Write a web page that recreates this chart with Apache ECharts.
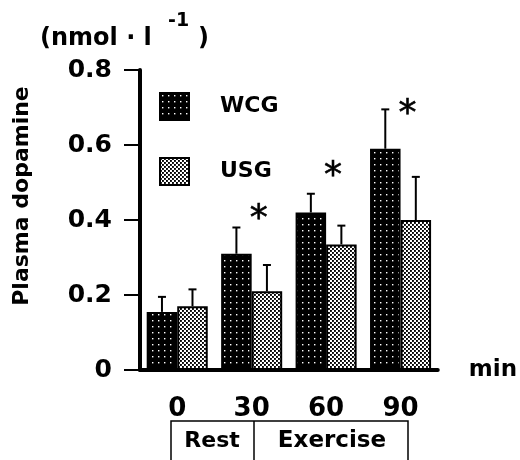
<!DOCTYPE html>
<html>
<head>
<meta charset="utf-8">
<script src="https://cdn.jsdelivr.net/npm/echarts@6/dist/echarts.min.js"></script>
<style>
html,body{margin:0;padding:0;background:#fff;}
#main{width:520px;height:460px;}
</style>
</head>
<body>
<div id="main"></div>
<script>
// ---- data ----
var categories = ['0', '30', '60', '90'];
var wcgMean = [0.155, 0.31, 0.42, 0.59];
var wcgErr  = [0.04, 0.07, 0.05, 0.105];
var usgMean = [0.17, 0.21, 0.335, 0.40];
var usgErr  = [0.045, 0.07, 0.05, 0.115];
var sigCats = [1, 2, 3];
var sigPos  = [0.42, 0.535, 0.70];
var yTicks  = [0, 0.2, 0.4, 0.6, 0.8];

var FONT = 'DejaVu Sans';

function makePattern(kind) {
  var c = document.createElement('canvas');
  var ctx = c.getContext('2d');
  if (kind === 'dark') {
    c.width = 6; c.height = 6;
    ctx.fillStyle = '#000'; ctx.fillRect(0, 0, 6, 6);
    ctx.fillStyle = '#fff';
    ctx.fillRect(2, 2, 1.4, 1.4);
  } else {
    c.width = 4; c.height = 4;
    ctx.fillStyle = '#fff'; ctx.fillRect(0, 0, 4, 4);
    ctx.fillStyle = '#000';
    ctx.fillRect(0, 0, 1.9, 1.9);
    ctx.fillRect(2, 2, 1.9, 1.9);
  }
  return { image: c, repeat: 'repeat' };
}
var darkPat = makePattern('dark');
var lightPat = makePattern('light');

var CAT_GAP = 0.18;

function errRender(sign) {
  return function (params, api) {
    var cat = api.value(0), v = api.value(1), e = api.value(2);
    var band = api.size([1, 0])[0];
    var barW = band * (1 - CAT_GAP) / 2;
    var p0 = api.coord([cat, v]);
    var p1 = api.coord([cat, v + e]);
    var x = p0[0] + sign * barW / 2;
    return {
      type: 'group',
      children: [
        { type: 'line', shape: { x1: x, y1: p0[1], x2: x, y2: p1[1] }, style: { stroke: '#000', lineWidth: 2 } },
        { type: 'line', shape: { x1: x - 4, y1: p1[1], x2: x + 4, y2: p1[1] }, style: { stroke: '#000', lineWidth: 2 } }
      ]
    };
  };
}

var chart = echarts.init(document.getElementById('main'), null, { renderer: 'canvas' });
chart.setOption({
  animation: false,
  backgroundColor: '#fff',
  textStyle: { fontFamily: FONT },
  grid: { left: 140, right: 78, top: 70, bottom: 90, containLabel: false },
  legend: {
    data: ['WCG', 'USG'],
    orient: 'vertical',
    left: 159, top: 92,
    itemWidth: 29, itemHeight: 27, itemGap: 36,
    padding: 0,
    icon: 'rect',
    textStyle: { fontFamily: FONT, fontSize: 22, fontWeight: 'bold', color: '#000', padding: [0, 0, 0, 26] }
  },
  xAxis: {
    type: 'category',
    data: categories,
    name: 'min',
    nameLocation: 'end',
    nameGap: 31,
    nameTextStyle: { fontFamily: FONT, fontSize: 23, fontWeight: 'bold', color: '#000', verticalAlign: 'middle' },
    axisLine: { lineStyle: { color: '#000', width: 4 } },
    axisTick: { alignWithLabel: true, length: 13, lineStyle: { color: '#000', width: 2 } },
    axisLabel: { fontFamily: FONT, fontSize: 26, fontWeight: 'bold', color: '#000', margin: 26 },
    splitLine: { show: false }
  },
  yAxis: {
    type: 'value',
    min: 0, max: 0.8, interval: 0.2,
    axisLine: { show: true, lineStyle: { color: '#000', width: 4 } },
    axisTick: { show: true, length: 16, lineStyle: { color: '#000', width: 2 } },
    axisLabel: {
      fontFamily: FONT, fontSize: 25, fontWeight: 'bold', color: '#000', margin: 28,
      formatter: function (v) { return v === 0 ? '0' : v.toFixed(1); }
    },
    splitLine: { show: false }
  },
  series: [
    {
      name: 'WCG', type: 'bar', data: wcgMean,
      barGap: '0%', barCategoryGap: (CAT_GAP * 100) + '%',
      itemStyle: { color: darkPat, borderColor: '#000', borderWidth: 2 }
    },
    {
      name: 'USG', type: 'bar', data: usgMean,
      itemStyle: { color: lightPat, borderColor: '#000', borderWidth: 2 }
    },
    {
      type: 'custom', name: 'wcgErr', z: 5,
      renderItem: errRender(-1),
      data: wcgMean.map(function (v, i) { return [i, v, wcgErr[i]]; })
    },
    {
      type: 'custom', name: 'usgErr', z: 5,
      renderItem: errRender(1),
      data: usgMean.map(function (v, i) { return [i, v, usgErr[i]]; })
    },
    {
      type: 'custom', name: 'sig', z: 6,
      renderItem: function (params, api) {
        var p = api.coord([api.value(0), api.value(1)]);
        return {
          type: 'text',
          style: {
            x: p[0] + 7, y: p[1] + 7, text: '*',
            font: '36px "DejaVu Sans"', fill: '#000', stroke: '#000', lineWidth: 0.6,
            textAlign: 'center', textVerticalAlign: 'middle'
          }
        };
      },
      data: sigCats.map(function (c, i) { return [c, sigPos[i]]; })
    }
  ],
  graphic: [
    {
      type: 'text', x: 22, y: 196, rotation: Math.PI / 2,
      style: { text: 'Plasma dopamine', font: 'bold 22px "DejaVu Sans"', fill: '#000', textAlign: 'center', textVerticalAlign: 'middle' }
    },
    {
      type: 'group',
      children: [
        { type: 'text', x: 40, y: 39, style: { text: '(nmol · l', font: 'bold 24px "DejaVu Sans"', fill: '#000', textAlign: 'left', textVerticalAlign: 'middle' } },
        { type: 'text', x: 168, y: 21, style: { text: '-1', font: 'bold 19px "DejaVu Sans"', fill: '#000', textAlign: 'left', textVerticalAlign: 'middle' } },
        { type: 'text', x: 198, y: 39, style: { text: ')', font: 'bold 24px "DejaVu Sans"', fill: '#000', textAlign: 'left', textVerticalAlign: 'middle' } }
      ]
    },
    { type: 'rect', shape: { x: 171, y: 421, width: 237, height: 60 }, style: { fill: 'none', stroke: '#000', lineWidth: 1.5 } },
    { type: 'line', shape: { x1: 254, y1: 421, x2: 254, y2: 460 }, style: { stroke: '#000', lineWidth: 1.5 } },
    { type: 'text', x: 212, y: 441, style: { text: 'Rest', font: 'bold 22px "DejaVu Sans"', fill: '#000', textAlign: 'center', textVerticalAlign: 'middle' } },
    { type: 'text', x: 332, y: 441, style: { text: 'Exercise', font: 'bold 23px "DejaVu Sans"', fill: '#000', textAlign: 'center', textVerticalAlign: 'middle' } }
  ]
});
</script>
</body>
</html>
